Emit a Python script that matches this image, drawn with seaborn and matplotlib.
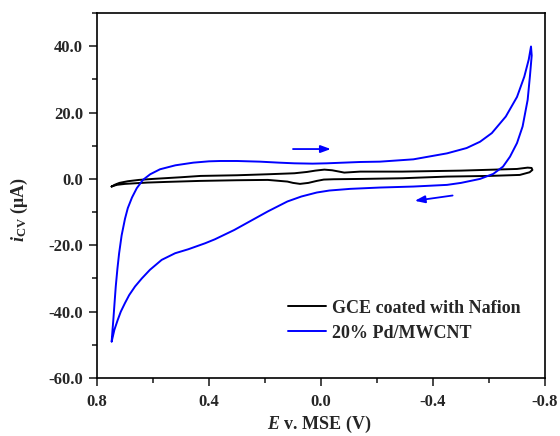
import matplotlib
matplotlib.use("Agg")
import matplotlib.pyplot as plt
import seaborn as sns
import pandas as pd
from matplotlib.ticker import FormatStrFormatter, MultipleLocator

# ---- data ----
blue_E = [0.7476, 0.745, 0.7417, 0.737, 0.733, 0.727, 0.721, 0.712, 0.700, 0.690, 0.675,
          0.658, 0.636, 0.61, 0.575,
          0.52, 0.456, 0.40, 0.36, 0.30, 0.218, 0.15, 0.095, 0.03, -0.02, -0.08, -0.14,
          -0.21, -0.33, -0.45, -0.52, -0.568, -0.61, -0.66, -0.70, -0.726, -0.742, -0.750,
          -0.7525, -0.746, -0.738, -0.72, -0.70, -0.675, -0.65, -0.615, -0.568, -0.50,
          -0.45, -0.33, -0.21, -0.104, -0.03, 0.015, 0.07, 0.12, 0.19, 0.25, 0.31, 0.379,
          0.414, 0.474, 0.521, 0.569, 0.611, 0.640, 0.664, 0.685, 0.70, 0.715, 0.726,
          0.738, 0.7476]
blue_i = [-49.0, -46.0, -42.5, -37.0, -32.4, -27.0, -22.4, -17.0, -12.0, -8.8, -5.6,
          -2.8, -0.3, 1.4, 2.9,
          4.1, 4.9, 5.3, 5.4, 5.4, 5.2, 4.9, 4.7, 4.6, 4.7, 4.9, 5.1,
          5.2, 5.9, 7.7, 9.3, 11.2, 13.8, 18.8, 24.7, 30.8, 36.0, 39.9,
          37.2, 30.8, 23.8, 15.8, 10.8, 6.7, 3.7, 1.5, 0.0, -1.2,
          -1.8, -2.3, -2.6, -3.0, -3.5, -4.1, -5.3, -6.8, -9.8, -12.6, -15.4, -18.2,
          -19.4, -21.2, -22.4, -24.4, -27.4, -30.0, -32.4, -35.0, -37.4, -40.0, -42.5,
          -45.5, -49.0]

black_E = [0.748, 0.735, 0.72, 0.69, 0.65, 0.60, 0.50, 0.43, 0.30, 0.19, 0.095, 0.05,
           0.02, -0.012, -0.04, -0.065, -0.083, -0.14, -0.29, -0.50, -0.70, -0.738, -0.752,
           -0.755, -0.745, -0.71, -0.60, -0.45, -0.29, -0.15, -0.045, -0.01, 0.015, 0.045,
           0.075, 0.10, 0.12, 0.19, 0.30, 0.432, 0.55, 0.62, 0.70, 0.73, 0.748]
black_i = [-2.3, -1.7, -1.2, -0.7, -0.3, 0.0, 0.5, 0.9, 1.1, 1.4, 1.7, 2.1,
           2.5, 2.8, 2.6, 2.2, 1.9, 2.2, 2.2, 2.5, 3.0, 3.4, 3.3,
           2.7, 2.0, 1.2, 0.9, 0.7, 0.2, 0.0, -0.1, -0.2, -0.6, -1.2,
           -1.5, -1.2, -0.8, -0.3, -0.4, -0.6, -0.9, -1.1, -1.5, -1.8, -2.3]

series_labels = ["GCE coated with Nafion", "20% Pd/MWCNT"]
series_colors = ["black", "#0000ff"]

# scan-direction arrows: (start E, start i, end E, end i)
arrow_fwd = [0.10, 9.0, -0.035, 9.0]
arrow_rev = [-0.47, -5.0, -0.335, -6.6]

xticks = [0.8, 0.4, 0.0, -0.4, -0.8]
yticks = [-60, -40, -20, 0, 20, 40]

# ---- build tidy frame ----
df = pd.concat([
    pd.DataFrame({"E": black_E, "i": black_i, "s": series_labels[0]}),
    pd.DataFrame({"E": blue_E, "i": blue_i, "s": series_labels[1]}),
], ignore_index=True)

sns.set_style("ticks")
plt.rcParams["font.family"] = ["Liberation Serif", "DejaVu Serif"]
plt.rcParams["font.weight"] = "bold"
plt.rcParams["axes.unicode_minus"] = False
plt.rcParams["mathtext.fontset"] = "custom"
plt.rcParams["mathtext.rm"] = "Liberation Serif:bold"
plt.rcParams["mathtext.it"] = "Liberation Serif:italic:bold"
plt.rcParams["mathtext.bf"] = "Liberation Serif:bold"

fig = plt.figure(figsize=(5.6, 4.36), dpi=100)
ax = fig.add_axes([97 / 560, 58 / 436, 448 / 560, 365 / 436])

sns.lineplot(data=df, x="E", y="i", hue="s", estimator=None, sort=False,
             palette=dict(zip(series_labels, series_colors)), linewidth=1.4, ax=ax,
             legend=False)
for lab, col in zip(series_labels, series_colors):
    ax.plot([], [], color=col, lw=1.4, label=lab)

for a in (arrow_fwd, arrow_rev):
    ax.annotate("", xy=(a[2], a[3]), xytext=(a[0], a[1]),
                arrowprops=dict(arrowstyle="-|>,head_length=0.6,head_width=0.22",
                                color="#0000ff", lw=1.3, shrinkA=0, shrinkB=0))

ax.set_xlim(0.8, -0.8)
ax.set_ylim(-60, 50)
ax.set_xticks(xticks)
ax.set_yticks(yticks)
ax.xaxis.set_minor_locator(MultipleLocator(0.2))
ax.yaxis.set_minor_locator(MultipleLocator(10))
ax.xaxis.set_major_formatter(FormatStrFormatter("%.1f"))
ax.yaxis.set_major_formatter(FormatStrFormatter("%.1f"))
ax.tick_params(which="major", direction="out", length=6, width=1.2, labelsize=12, pad=4,
               top=False, right=False)
ax.tick_params(axis="x", which="major", pad=5.5)
ax.tick_params(which="minor", direction="out", length=3.5, width=1.2, top=False, right=False)
for sp in ax.spines.values():
    sp.set_visible(True)
    sp.set_linewidth(1.2)
    sp.set_color("black")
for lbl in ax.get_xticklabels() + ax.get_yticklabels():
    lbl.set_fontweight("bold")

ax.set_xlabel(r"$\mathit{E}$ v. MSE (V)", fontsize=13, fontweight="bold")
ax.set_ylabel(r"$\mathit{i}_{\mathrm{CV}}$ (μA)", fontsize=13, fontweight="bold")
ax.xaxis.set_label_coords(0.495, -0.097)
ax.yaxis.set_label_coords(-0.15, 0.46)

leg = ax.legend(loc="center left", bbox_to_anchor=(0.426, 0.157), frameon=False,
                borderpad=0, borderaxespad=0, handlelength=2.1, handletextpad=0.35,
                labelspacing=0.45, prop={"family": "Liberation Serif", "weight": "bold",
                                          "size": 13})

fig.savefig("out.png", dpi=100)
